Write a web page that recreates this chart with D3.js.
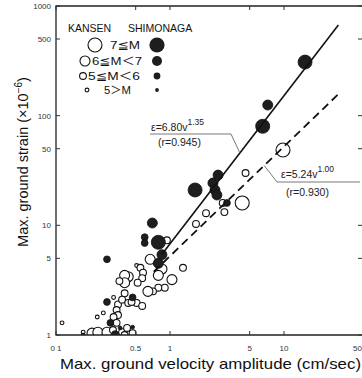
<!DOCTYPE html>
<html>
<head>
<meta charset="utf-8">
<script src="https://cdn.jsdelivr.net/npm/d3@7"></script>
<style>
  body { margin: 0; background: #fff; }
  svg { display: block; font-family: "Liberation Sans", Arial, sans-serif; }
</style>
</head>
<body>
<svg id="chart" width="362" height="378"></svg>
<script>
// velocity (cm/sec), strain (x10^-6), magnitude class (4: 5>M, 5: 5<=M<6, 6: 6<=M<7, 7: 7<=M)
const kansen = [
  [9.8, 48.6, 7], [4.6, 30, 5], [4.3, 16, 7], [2.9, 16, 5], [2.07, 12.9, 5],
  [3.0, 13.2, 5], [1.69, 10.3, 5], [1.30, 4.1, 5], [0.94, 7.3, 5], [0.85, 4.0, 6],
  [0.67, 4.9, 6], [1.04, 3.2, 6], [0.90, 2.7, 5], [0.79, 2.7, 5], [0.71, 2.5, 5],
  [0.64, 2.5, 6], [0.51, 4.3, 4], [0.55, 4.1, 5], [0.58, 3.7, 5], [0.57, 3.3, 5],
  [0.52, 3.0, 5], [0.43, 3.4, 6], [0.40, 3.5, 6], [0.40, 3.0, 6], [0.36, 3.1, 5],
  [0.40, 2.4, 5], [0.32, 2.2, 4], [0.35, 1.9, 5], [0.38, 2.1, 5], [0.43, 1.96, 5],
  [0.51, 1.96, 5], [0.57, 1.84, 5], [0.46, 2.0, 5], [0.34, 1.69, 5], [0.35, 1.52, 5],
  [0.32, 1.46, 5], [0.23, 1.46, 4], [0.26, 1.59, 4], [0.34, 1.29, 5], [0.113, 1.29, 4],
  [0.173, 1.06, 4], [0.207, 1.04, 6], [0.233, 1.06, 6], [0.28, 1.06, 6], [0.316, 1.11, 5],
  [0.38, 1.06, 5], [0.42, 1.16, 5], [0.40, 1.0, 5], [0.47, 1.04, 5], [0.79, 3.5, 6]
];
const shimonaga = [
  [15.3, 308, 7], [7.2, 125, 6], [6.5, 80, 7], [1.66, 21, 7], [2.64, 28.7, 6],
  [2.38, 24.3, 6], [2.48, 21, 6], [2.58, 18.9, 6], [3.16, 16, 5], [0.70, 10.5, 6],
  [0.60, 7.8, 5], [0.60, 6.9, 5], [0.79, 7.0, 7], [0.28, 4.9, 5], [0.85, 5.4, 6],
  [0.79, 4.5, 6], [0.28, 2.0, 5], [0.47, 2.2, 5], [0.30, 1.29, 5], [0.33, 1.02, 5],
  [0.365, 1.16, 4], [0.173, 1.0, 4], [0.47, 1.18, 4]
];
const xTicks = [0.1, 0.5, 1, 5, 10, 50];
const xTickLabels = ["0 1", "0.5", "1", "5", "10", "50"];
const yTicks = [1, 5, 10, 50, 100, 500, 1000];
const yTickLabels = ["1", "5", "10", "50", "100", "500", "1000"];
const legendClasses = [7, 6, 5, 4];
const legendLabels = ["7\u2266M", "6\u2266M\uFF1C7", "5\u2266M\uFF1C6", "5\uFF1EM"];
// regression fits: eps = a * v^b
const fitSolid = { a: 6.80, b: 1.35, from: 0.85, to: 30 };
const fitDashed = { a: 5.24, b: 1.00, from: 0.72, to: 30 };

const svg = d3.select("#chart");
const mLeft = 56, mRight = 363, mTop = 6, mBottom = 335;

const x = d3.scaleLog().domain([0.1, 50]).range([mLeft, mLeft + 114 * Math.log10(500)]);
const y = d3.scaleLog().domain([1, 1000]).range([mBottom, mTop]);
const radius = d3.scaleOrdinal().domain([4, 5, 6, 7]).range([1.9, 3.4, 5, 7]);

const plot = svg.append("g");
plot.append("clipPath").attr("id", "clip")
  .append("rect").attr("x", mLeft).attr("y", mTop).attr("width", mRight - mLeft).attr("height", mBottom - mTop);

// frame (right edge falls just outside the picture, as in the scan)
svg.append("path")
  .attr("d", `M${mLeft},${mTop}H${mRight}V${mBottom}H${mLeft}Z`)
  .attr("fill", "none").attr("stroke", "#222").attr("stroke-width", 1.3);

// ticks (inward)
const tk = svg.append("g").attr("stroke", "#333").attr("stroke-width", 1);
yTicks.forEach(t => {
  tk.append("line").attr("x1", mLeft).attr("x2", mLeft + 4).attr("y1", y(t)).attr("y2", y(t));
  tk.append("line").attr("x1", mRight).attr("x2", mRight - 5).attr("y1", y(t)).attr("y2", y(t));
});
xTicks.forEach(t => {
  tk.append("line").attr("x1", x(t)).attr("x2", x(t)).attr("y1", mBottom).attr("y2", mBottom - 4);
  tk.append("line").attr("x1", x(t)).attr("x2", x(t)).attr("y1", mTop).attr("y2", mTop + 4);
});

// tick labels
svg.append("g").selectAll("text").data(yTicks).join("text")
  .attr("x", mLeft - 5).attr("y", d => y(d) + 3)
  .attr("text-anchor", "end").attr("font-size", 8).attr("fill", "#333")
  .text((d, i) => yTickLabels[i]);
svg.append("g").selectAll("text").data(xTicks).join("text")
  .attr("x", (d, i) => i === xTicks.length - 1 ? 362 : x(d)).attr("y", 351)
  .attr("text-anchor", (d, i) => i === xTicks.length - 1 ? "end" : "middle")
  .attr("font-size", 8).attr("fill", "#333")
  .text((d, i) => xTickLabels[i]);

// axis titles
svg.append("text").attr("x", 60).attr("y", 369)
  .attr("font-size", 14.5).attr("fill", "#111")
  .attr("textLength", 301).attr("lengthAdjust", "spacingAndGlyphs")
  .text("Max. ground velocity amplitude (cm/sec)");
svg.append("text")
  .attr("transform", "translate(28,162) rotate(-90)")
  .attr("text-anchor", "middle").attr("font-size", 14.5).attr("fill", "#111")
  .html('Max. ground strain (\u00D710<tspan dy="-6" font-size="10">\u22126</tspan><tspan dy="6">)</tspan>');

// data points: open (KANSEN) first, then filled (SHIMONAGA)
const pts = plot.append("g").attr("clip-path", "url(#clip)");
pts.selectAll("circle.k").data(kansen).join("circle").attr("class", "k")
  .attr("cx", d => x(d[0])).attr("cy", d => y(d[1])).attr("r", d => radius(d[2]))
  .attr("fill", "#fff").attr("stroke", "#111").attr("stroke-width", 1.1);
pts.selectAll("circle.s").data(shimonaga).join("circle").attr("class", "s")
  .attr("cx", d => x(d[0])).attr("cy", d => y(d[1])).attr("r", d => radius(d[2]))
  .attr("fill", "#1e1e1e").attr("stroke", "#111").attr("stroke-width", 0.8);

// fit lines
const fitLine = f => d3.line()(
  [f.from, f.to].map(v => [x(v), y(f.a * Math.pow(v, f.b))]));
plot.append("path").attr("d", fitLine(fitSolid))
  .attr("fill", "none").attr("stroke", "#111").attr("stroke-width", 1.6);
plot.append("path").attr("d", fitLine(fitDashed))
  .attr("fill", "none").attr("stroke", "#111").attr("stroke-width", 1.8)
  .attr("stroke-dasharray", "8,5");

// annotations
const ann = svg.append("g").attr("fill", "#222").attr("font-size", 10.5);
ann.append("text").attr("x", 151).attr("y", 131)
  .html('\u03B5=6.80v<tspan dy="-6" font-size="8.5">1.35</tspan>');
ann.append("text").attr("x", 158).attr("y", 146).text("(r=0.945)");
const v1 = 4.1;
ann.append("path")
  .attr("d", `M150,134H231L${x(v1)},${y(fitSolid.a * Math.pow(v1, fitSolid.b))}`)
  .attr("fill", "none").attr("stroke", "#555").attr("stroke-width", 0.8);

ann.append("text").attr("x", 281).attr("y", 178)
  .html('\u03B5=5.24v<tspan dy="-6" font-size="8.5">1.00</tspan>');
ann.append("text").attr("x", 286).attr("y", 196).text("(r=0.930)");
const v2 = 6.7;
ann.append("path")
  .attr("d", `M${x(v2)},${y(fitDashed.a * Math.pow(v2, fitDashed.b))}L277,182H360`)
  .attr("fill", "none").attr("stroke", "#555").attr("stroke-width", 0.8);

// legend
const lg = svg.append("g").attr("fill", "#111");
lg.append("text").attr("x", 68).attr("y", 32).attr("font-size", 10.5).text("KANSEN");
lg.append("text").attr("x", 128).attr("y", 32).attr("font-size", 10.5).text("SHIMONAGA");
const rowY = [45, 61, 76, 90];
const openX = [95, 85, 83, 87];
const textX = [110, 92, 88, 104];
const textW = [30, 50, 52, 27];
legendClasses.forEach((c, i) => {
  lg.append("circle").attr("cx", openX[i]).attr("cy", rowY[i]).attr("r", radius(c))
    .attr("fill", "#fff").attr("stroke", "#111").attr("stroke-width", 1.1);
  lg.append("circle").attr("cx", 157).attr("cy", rowY[i]).attr("r", radius(c) + (c === 7 ? 0.6 : 0))
    .attr("fill", "#1e1e1e");
  lg.append("text").attr("x", textX[i]).attr("y", rowY[i] + 4)
    .attr("font-size", 11)
    .attr("textLength", textW[i]).attr("lengthAdjust", "spacingAndGlyphs")
    .attr("font-family", "'Liberation Sans', 'DejaVu Sans', 'Noto Sans CJK JP', sans-serif")
    .text(legendLabels[i]);
});
</script>
</body>
</html>
